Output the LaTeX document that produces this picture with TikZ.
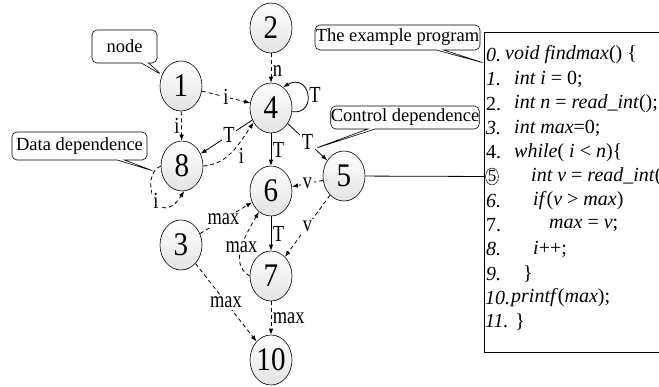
\documentclass[tikz,border=0pt]{standalone}
\usepackage{fontspec}
\setmainfont{Liberation Serif}
\newfontfamily\numfont{Liberation Serif}[FakeStretch=0.88]
\newfontfamily\lblfont{Liberation Serif}[FakeStretch=0.8]
\usetikzlibrary{arrows.meta,shapes.geometric,shapes.callouts}

\begin{document}
\begin{tikzpicture}[x=1pt, y=1pt,
    vertex/.style={ellipse, draw, line width=0.6pt, top color=white, bottom color=gray!22,
      minimum width=42pt, minimum height=50pt, inner sep=0pt,
      font=\numfont\fontsize{33}{33}\selectfont},
    ctrl/.style={line width=0.8pt, -{Latex[length=6pt,width=4.5pt]}},
    data/.style={ctrl, dash pattern=on 4pt off 3pt},
    lbl/.style={font=\lblfont\fontsize{23}{23}\selectfont, inner sep=1.5pt},
    onln/.style={lbl, fill=white},
    bubble/.style={rectangle callout, draw, line width=0.6pt, fill=white, rounded corners=5pt,
      font=\fontsize{18.5}{18.5}\selectfont, inner sep=0pt},
    codenum/.style={anchor=west, inner sep=0pt, font=\fontsize{20}{20}\selectfont},
    codeln/.style={anchor=west, inner sep=0pt, font=\fontsize{20}{20}\selectfont}]
    \useasboundingbox (0,0) rectangle (659,-387);

    % nodes of the graph
    \node[vertex] (N2) at (271, -28) {2};
    \node[vertex] (N1) at (181, -86) {1};
    \node[vertex] (N4) at (271, -108) {4};
    \node[vertex] (N8) at (182, -166) {8};
    \node[vertex] (N5) at (344, -176) {5};
    \node[vertex] (N6) at (271, -191) {6};
    \node[vertex] (N3) at (181, -245) {3};
    \node[vertex] (N7) at (271, -276) {7};
    \node[vertex] (N10) at (271, -360) {10};

    % the program
    \node[draw, line width=0.8pt, anchor=north west, minimum width=190pt, minimum height=320pt] (prog) at (484, -32) {};
    \node[codenum] (L0) at (486, -55) {\textit{0.}};
    \node[codeln] at (505, -55) {\textit{void findmax}() \{};
    \node[codenum] (L1) at (486, -79.3) {\textit{1.}};
    \node[codeln] at (514, -79.3) {\textit{int i} = 0;};
    \node[codenum] (L2) at (486, -103.6) {2.};
    \node[codeln] at (514, -103.6) {\textit{int n} = \textit{read\_int}();};
    \node[codenum] (L3) at (486, -127.9) {\textit{3.}};
    \node[codeln] at (514, -127.9) {\textit{int max}=0;};
    \node[codenum] (L4) at (486, -152.2) {4.};
    \node[codeln] at (514, -152.2) {\textit{while}( \textit{i} < \textit{n})\{};
    \node[ellipse, draw, line width=0.5pt, inner sep=0.3pt, font=\fontsize{17}{17}\selectfont] (L5) at (492, -176.5) {5};
    \node[codeln] at (531, -176.5) {\textit{int v} = \textit{read\_int}()};
    \node[codenum] (L6) at (486, -200.8) {\textit{6.}};
    \node[codeln] at (533, -200.8) {\textit{if}(\textit{v} > \textit{max})};
    \node[codenum] (L7) at (486, -225.1) {7.};
    \node[codeln] at (549, -225.1) {\textit{max} = \textit{v};};
    \node[codenum] (L8) at (486, -249.4) {\textit{8.}};
    \node[codeln] at (533, -249.4) {\textit{i}++;};
    \node[codenum] (L9) at (486, -273.7) {\textit{9.}};
    \node[codeln] at (523, -273.7) {\}};
    \node[codenum] (L10) at (485, -298) {\textit{10.}};
    \node[codeln] at (511, -298) {\textit{printf}(\textit{max});};
    \node[codenum] (L11) at (485, -322.3) {\textit{11.} \}};
    \coordinate (progtip) at (484, -63);

    % edges
    \draw[data] (N2) -- node[lbl, right, pos=0.6] {n} (N4);
    \draw[ctrl] (N4.350) .. controls (318,-115) and (310,-72) .. node[lbl, right, pos=0.5] {T} (N4.60);
    \draw[data] (N1) -- node[onln] {i} (N4);
    \draw[data] (N1) -- node[lbl, left] {i} (N8);
    \draw[ctrl] (N4) -- node[onln, pos=0.45] {T} (N8);
    \draw[data] (N8.east) to[out=5, in=235] node[lbl, pos=0.6, below right] {i} (N4.220);
    \draw[ctrl] (N4) -- node[lbl, right] {T} (N6);
    \draw[ctrl] (N4) -- node[onln, pos=0.5] {T} coordinate[pos=0.68] (cdtip) (N5);
    \draw[data] (N8.west) .. controls (138,-176) and (158,-232) .. coordinate[pos=0.12] (ddtip) node[onln, pos=0.55] {i} (N8.275);
    \draw[data] (N5) -- node[onln] {v} (N6);
    \draw[data] (N5) -- node[onln] {v} (N7);
    \draw[data] (N3) -- node[onln, pos=0.45] {max} (N6);
    \draw[data] (N7.west) to[out=150, in=240] node[onln] {max} (N6.240);
    \draw[ctrl] (N6) -- node[lbl, right] {T} (N7);
    \draw[data] (N7) -- node[lbl, right] {max} (N10);
    \draw[data] (N3) -- node[onln] {max} (N10);
    \draw[line width=0.8pt] (N5) -- (L5);

    % callouts
    \node[bubble, minimum width=65pt, minimum height=33pt, callout absolute pointer={(N1.150)}] (cnode) at (124.5, -46.5) {node};
    \node[bubble, minimum width=135pt, minimum height=28pt, callout absolute pointer={(ddtip)}] (cdata) at (79.5, -146) {Data dependence};
    \node[bubble, minimum width=165pt, minimum height=25pt, callout absolute pointer={(progtip)}] (cprog) at (397.5, -37.5) {The example program};
    \node[bubble, minimum width=146pt, minimum height=23pt, callout absolute pointer={(cdtip)}] (cctrl) at (405, -117.5) {Control dependence};
\end{tikzpicture}
\end{document}
